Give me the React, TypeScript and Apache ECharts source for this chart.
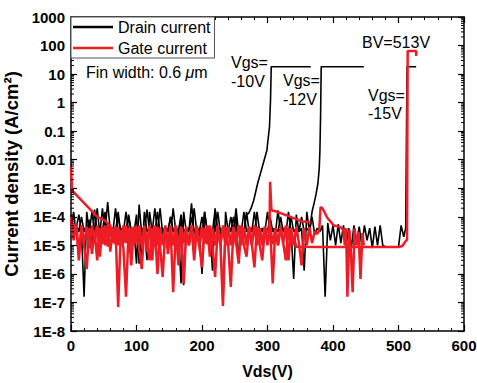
import React, { useEffect, useRef } from "react";
import * as echarts from "echarts";

// Sweep step of the noisy (measurement-floor) parts, in volts
const V_STEP = 4;

const xTickLabels = ["0", "100", "200", "300", "400", "500", "600"];
const yTickLabels = ["1E-8", "1E-7", "1E-6", "1E-5", "1E-4", "1E-3", "0.01", "0.1", "1", "10", "100", "1000"];

// ---- Drain current, Vgs = -10 V (noise from 0 V every 4 V, then breakdown) ----
const drainA = [
  1e-4, 3e-5, 4e-5, 1.2e-4, 3e-5, 1.6e-7, 1.5e-4, 3e-5, 4e-5, 3e-5,
  2e-4, 2.5e-5, 4e-5, 3e-5, 3.3e-4, 3e-5, 4e-5, 3e-5, 1.5e-4, 2.5e-5,
  4e-5, 3e-5, 1.2e-4, 3e-5, 4e-5, 2.3e-6, 2.7e-4, 2.5e-5, 4e-5, 3e-6,
  1.5e-4, 3e-5, 4e-5, 3e-5, 2e-4, 2.5e-5, 4e-5, 3e-5, 1e-4, 3e-5,
  4e-5, 3e-5, 8e-5, 4e-7, 4e-5, 3e-5, 3e-4, 2.5e-5, 4e-5, 3e-5,
  1e-6, 1.5e-4, 3e-5, 4e-5, 1.3e-6, 2e-4, 3e-5, 4e-5, 7.5e-8, 1.5e-4,
  3e-5, 4e-5, 3e-5, 1.2e-4, 3e-6, 4e-5, 3e-5, 1.2e-4,
];
const drainABreak = [
  [271, 1.3e-4], [275, 2e-4], [279, 3.8e-4], [285, 1.5e-3], [292, 5.6e-3],
  [299, 0.021], [303, 0.14], [304.6, 1.2], [305.7, 18], [366, 18],
];

// ---- Drain current, Vgs = -12 V ----
const drainB = [
  5e-5, 1.5e-4, 2.5e-5, 4e-5, 3e-5, 4e-5, 3e-5, 8e-5, 1e-5, 1.8e-4,
  3e-5, 4e-5, 3e-5, 1.5e-4, 2.5e-5, 4e-5, 3e-5, 2e-4, 2.5e-5, 4e-5,
  3e-5, 1.5e-4, 3e-5, 4e-5, 2.5e-5, 1.2e-4, 2.3e-6, 4e-5, 3e-5, 1.8e-4,
  3e-5, 4e-5, 2.5e-5, 1.5e-4, 3e-5, 4e-5, 3e-5, 4e-5, 2.5e-5, 2e-4,
  3e-5, 4e-5, 4.6e-7, 1.5e-4, 3e-5, 4e-5, 2.5e-5, 2e-4, 3e-5, 4e-5,
  2.5e-5, 1.5e-4, 3e-5, 4e-5, 3e-5, 1.8e-4, 3e-5, 4e-5, 2.5e-5, 4e-5,
  3e-5, 1e-4, 3e-5, 2e-4, 2.5e-5, 4e-5, 3e-5, 1.5e-4, 3e-5, 4e-5,
  2.5e-5, 1.5e-4, 3e-5, 4e-5, 3e-5, 1.5e-4, 3e-5, 4e-5, 2.5e-5, 1.7e-4,
  3e-5, 4e-5, 2.5e-5, 1.5e-4, 3e-5, 6.6e-7, 1.2e-4, 3e-5, 4e-5, 1.3e-6,
  1.5e-4, 3e-5, 1.5e-4,
];
const drainBBreak = [
  [371, 2.9e-4], [374, 6e-4], [377, 1.5e-3], [379, 5e-3], [380, 0.02],
  [381, 0.3], [382, 18], [447, 18],
];

// ---- Drain current, Vgs = -15 V ----
const drainC = [
  1.2e-4, 3e-5, 4e-5, 3e-5, 1e-4, 3e-5, 4e-5, 3e-5, 1.5e-4, 3e-5,
  4e-5, 2.5e-5, 2e-4, 3e-5, 4e-5, 3e-5, 4e-5, 3e-5, 1e-4, 3e-5,
  4e-5, 3e-5, 1e-4, 3e-5, 4e-5, 2.5e-5, 4e-5, 2.3e-6, 1.5e-4, 3e-5,
  4e-5, 3e-5, 2e-4, 3e-5, 4e-5, 2.5e-5, 4e-5, 3e-5, 1e-4, 3e-5,
  4e-5, 3e-5, 1.2e-4, 3e-5, 4e-5, 3e-5, 1e-4, 3e-5, 4e-5, 3e-5,
  1e-4, 3e-5, 4e-5, 3e-5, 4e-5, 3e-5, 1.5e-4, 3e-5, 4e-5, 3e-5,
  4e-5, 3e-5, 1e-4, 3e-5, 4e-5, 3e-5, 1.5e-4, 3e-5, 4e-5, 3e-5,
  1.5e-4, 3e-5, 4e-5, 3e-5, 4e-5, 3e-5, 1e-4, 3e-5, 4e-5, 3e-5,
  1e-4, 3e-5, 4e-5, 3e-5, 1e-4, 3e-5, 4e-5, 3e-5, 1e-4, 3e-5,
  4e-5, 3e-5, 1e-4, 2.5e-5, 4e-5, 3e-5, 5e-5, 1.6e-7, 6e-5, 1.5e-5,
  5e-5, 1e-5, 5.5e-5, 1.2e-5, 5e-5, 1e-5, 4e-5, 8e-6, 5e-5, 1.2e-5,
  4.5e-5, 1e-5, 5e-5, 1.5e-5, 4e-5, 8e-6, 4.5e-5, 1e-5, 5e-5, 1e-5,
  9e-6, 8.7e-6, 9e-6, 8.7e-6, 9e-6, 8.7e-6, 5e-5, 2e-5,
];
const drainCBreak = [[511, 4e-5], [513, 18], [527, 18]];

// ---- Gate current, Vgs = -10 V ----
const gateAStart = [
  [0, 5.6e-3], [1.5, 8.5e-4], [11, 5e-4], [26, 2.2e-4], [41, 9.5e-5], [52, 7.5e-5], [57, 5.5e-5],
];
const gateA = [ // from 60 V
  5e-5, 1.5e-5, 4e-5, 7e-8, 3e-5, 1.2e-5, 5e-5, 9e-6, 4e-5, 1e-5,
  4.5e-5, 8e-6, 1.5e-6, 4e-5, 1.1e-5, 5e-5, 3e-6, 4e-5, 1e-6, 3.5e-5,
  1e-5, 5e-5, 1.2e-5, 4e-5, 2.3e-7, 3e-5, 1e-5, 4.5e-5, 4.5e-7, 3.5e-5,
  1.2e-5, 5e-5, 3e-6, 4e-5, 9e-6, 1.7e-6, 4e-5, 1.1e-5, 5e-5, 1e-5,
  7.8e-7, 4e-5, 1.2e-5, 7.5e-8, 4.5e-5, 1e-5, 3.5e-7, 4e-5, 1.3e-5, 2.3e-6,
  5e-5, 1e-5, 4e-6, 4e-5, 1.2e-5, 1.7e-6, 4.5e-5, 1.1e-5, 3e-6, 4e-5,
  3e-5,
];
const gateABreak = [
  [303, 3e-5], [304, 1.7e-3], [306, 1.7e-4], [315, 1.5e-4], [330, 1.1e-4],
  [340, 9e-5], [352, 7e-5], [366, 6.5e-5],
];

// ---- Gate current, Vgs = -12 V ----
const gateB = [
  8e-5, 1.5e-5, 5e-5, 5e-6, 4e-5, 1e-5, 1.5e-6, 4e-5, 5e-6, 3.5e-5,
  3e-6, 4e-5, 1.1e-5, 5e-5, 9e-6, 4e-5, 1.2e-5, 4.5e-5, 1e-5, 3.5e-5,
  8e-6, 1.6e-7, 4e-5, 2e-6, 4.5e-5, 1.2e-5, 3.5e-5, 1e-5, 5e-5, 1.1e-5,
  3e-6, 4e-5, 1e-5, 4.5e-5, 9e-6, 7.8e-7, 4e-5, 1.2e-5, 5e-5, 1e-5,
  4e-5, 2e-6, 4.5e-5, 1.2e-5, 3.5e-5, 1e-5, 4e-5, 1.1e-5, 5e-5, 9e-6,
  4e-5, 1.2e-5, 4.5e-5, 1e-5, 4e-5, 1.1e-5, 5e-5, 1e-5, 4e-5, 1.2e-5,
  4.5e-5, 1e-5, 4e-5, 1.1e-5, 5e-5, 1e-5, 4e-5, 1.2e-5, 4.5e-5, 1e-5,
  5e-5, 1.1e-5, 4e-5, 1e-5, 4.5e-5, 1.2e-5, 5e-5, 4.6e-7, 4e-5, 1e-5,
  4.5e-5, 1.2e-5, 5e-5, 3e-6, 4e-5, 1e-5, 4.5e-5, 1.2e-5, 2e-6, 4e-5,
  1e-5, 4.5e-5, 1.2e-5, 3e-5, 2.5e-5,
];
const gateBBreak = [
  [379, 3.4e-5], [381, 2.2e-4], [384, 2e-4], [391, 9.5e-5], [401, 5e-5], [410, 4.5e-5],
  [416, 3.5e-5], [418, 1e-5], [420, 4e-5], [422, 1.6e-7], [425, 3.5e-5], [427, 8e-6],
  [430, 2.3e-7], [433, 4e-5], [436, 1e-5], [439, 3e-5], [442, 6.6e-7], [445, 2.7e-5], [447, 1e-5],
];

// ---- Gate current, Vgs = -15 V ----
const gateC = [
  1e-4, 2e-5, 6e-5, 3e-6, 5e-5, 1.2e-5, 4.5e-5, 8e-6, 5e-5, 1.2e-5,
  5e-5, 4e-6, 4.5e-5, 1e-5, 5e-5, 6e-6, 4e-5, 1.1e-5, 4.5e-5, 1e-5,
  5e-5, 1.2e-5, 4e-5, 1e-5, 4.5e-5, 1.2e-5, 5e-5, 1e-5, 4e-5, 6e-6,
  4.5e-5, 1.1e-5, 5e-5, 1e-5, 4e-5, 1.2e-5, 4.5e-5, 5e-6, 4e-5, 1.1e-5,
  5e-5, 1e-5, 4e-5, 1.2e-5, 4.5e-5, 1e-5, 5e-5, 1.1e-5, 4e-5, 1e-5,
  4.5e-5, 1.2e-5, 5e-5, 4e-6, 4e-5, 1e-5, 4.5e-5, 1.2e-5, 5e-5, 1e-5,
  4e-5, 1.1e-5, 4.5e-5, 1e-5, 5e-5, 1.2e-5, 4e-5, 1e-5, 4.5e-5, 1.1e-5,
  5e-5, 1e-5, 4e-5, 1.2e-5, 4.5e-5, 1e-5, 5e-5, 1.1e-5, 4e-5, 1e-5,
  4.5e-5, 1.2e-5, 3e-6, 4e-5, 1e-5, 2e-5,
];
const gateCBreak = [
  [344, 9e-6], [380, 8.8e-6], [420, 8.7e-6], [460, 8.7e-6], [500, 8.8e-6], [506, 9.5e-6],
  [510, 1.3e-5], [513, 1.6e-5], [514, 64], [527, 64], [527, 43],
];

const FONT = '"Liberation Sans", Arial, Helvetica, sans-serif';
const BLACK = "#000000";
const RED = "#ee1c25";

function sweep(startV: number, vals: number[], tail: number[][], head: number[][] = []) {
  return [...head, ...vals.map((v, i) => [startV + i * V_STEP, v]), ...tail];
}

export default function App() {
  const ref = useRef<HTMLDivElement>(null);
  useEffect(() => {
    if (!ref.current) return;
    const chart = echarts.init(ref.current, undefined, { renderer: "svg" });

    const minorVals: number[][] = [];
    for (let e = -8; e < 3; e++) {
      for (let m = 2; m <= 9; m++) minorVals.push([0, m * Math.pow(10, e)]);
    }

    const lineSeries = (name: string, color: string, data: number[][], width: number) => ({
      type: "line",
      name,
      data,
      symbol: "none",
      showSymbol: false,
      lineStyle: { color, width },
      itemStyle: { color },
      clip: true,
      z: 2,
    });

    const xAxisCommon = {
      type: "value",
      min: 0,
      max: 600,
      interval: 100,
      axisLine: { show: true, onZero: false, lineStyle: { color: BLACK, width: 1.5 } },
      axisTick: { show: true, inside: true, length: 6, lineStyle: { color: BLACK, width: 1.2 } },
      minorTick: { show: true, splitNumber: 5, length: 3, lineStyle: { color: BLACK, width: 1 } },
      splitLine: { show: false },
      minorSplitLine: { show: false },
    };
    const yAxisCommon = {
      type: "log",
      logBase: 10,
      min: 1e-8,
      max: 1000,
      interval: 1,
      axisLine: { show: true, onZero: false, lineStyle: { color: BLACK, width: 1.5 } },
      axisTick: { show: true, inside: true, length: 6, lineStyle: { color: BLACK, width: 1.2 } },
      splitLine: { show: false },
    };

    const option: any = {
      animation: false,
      backgroundColor: "#ffffff",
      grid: { left: 71, right: 13, top: 17, bottom: 52, containLabel: false, outerBoundsMode: "none" },
      legend: {
        data: ["Drain current", "Gate current"],
        orient: "vertical",
        left: 71,
        top: 17,
        icon: "rect",
        itemWidth: 40,
        itemHeight: 2.5,
        itemGap: 5,
        padding: [2, 4, 2, 2],
        borderColor: "#555",
        borderWidth: 1,
        backgroundColor: "#ffffff",
        textStyle: { fontFamily: FONT, fontSize: 16, color: BLACK },
        z: 10,
      },
      xAxis: [
        {
          ...xAxisCommon,
          position: "bottom",
          name: "Vds(V)",
          nameLocation: "middle",
          nameGap: 32,
          nameTextStyle: { fontFamily: FONT, fontSize: 16, fontWeight: "bold", color: BLACK },
          axisLabel: {
            fontFamily: FONT,
            fontSize: 15,
            fontWeight: "bold",
            color: BLACK,
            margin: 7,
            formatter: (v: number) => xTickLabels[Math.round(v / 100)] ?? String(v),
          },
        },
        { ...xAxisCommon, position: "top", axisLabel: { show: false } },
      ],
      yAxis: [
        {
          ...yAxisCommon,
          position: "left",
          name: "Current density (A/cm\u00B2)",
          nameLocation: "middle",
          nameGap: 41,
          nameTextStyle: { fontFamily: FONT, fontSize: 18.5, fontWeight: "bold", color: BLACK },
          axisLabel: {
            fontFamily: FONT,
            fontSize: 15,
            fontWeight: "bold",
            color: BLACK,
            margin: 6,
            formatter: (v: number) => yTickLabels[Math.round(Math.log10(v)) + 8] ?? "",
          },
        },
        { ...yAxisCommon, position: "right", axisLabel: { show: false } },
      ],
      series: [
        lineSeries("Drain current", BLACK, sweep(0, drainA, drainABreak), 1.6),
        lineSeries("Drain current", BLACK, sweep(0, drainB, drainBBreak), 1.6),
        lineSeries("Drain current", BLACK, sweep(0, drainC, drainCBreak), 1.6),
        lineSeries("Gate current", RED, sweep(60, gateA, gateABreak, gateAStart), 2.5),
        lineSeries("Gate current", RED, sweep(0, gateB, gateBBreak), 2.5),
        lineSeries("Gate current", RED, sweep(0, gateC, gateCBreak), 2.5),
        {
          type: "custom",
          name: "minor",
          silent: true,
          data: minorVals,
          z: 5,
          clip: false,
          renderItem: (_p: any, api: any) => {
            const v = api.value(1);
            const l = api.coord([0, v]);
            const r = api.coord([600, v]);
            const st = { stroke: BLACK, lineWidth: 1 };
            return {
              type: "group",
              children: [
                { type: "line", shape: { x1: l[0], y1: l[1], x2: l[0] + 3, y2: l[1] }, style: st },
                { type: "line", shape: { x1: r[0] - 3, y1: r[1], x2: r[0], y2: r[1] }, style: st },
              ],
            };
          },
        },
      ],
      graphic: [
        {
          type: "text",
          x: 86,
          y: 72,
          style: {
            text: "{a|Fin width: 0.6 }{b|\u03BC}{a|m}",
            fontFamily: FONT,
            fontSize: 16,
            fill: BLACK,
            verticalAlign: "middle",
            rich: {
              a: { fontFamily: FONT, fontSize: 16, color: BLACK },
              b: { fontFamily: FONT, fontSize: 16, color: BLACK, fontStyle: "italic" },
            },
          },
          z: 20,
        },
        {
          type: "text",
          x: 231,
          y: 53,
          style: { text: "Vgs=\n-10V", fontFamily: FONT, fontSize: 16, lineHeight: 19, fill: BLACK, verticalAlign: "top" },
          z: 20,
        },
        {
          type: "text",
          x: 283,
          y: 71,
          style: { text: "Vgs=\n-12V", fontFamily: FONT, fontSize: 16, lineHeight: 19, fill: BLACK, verticalAlign: "top" },
          z: 20,
        },
        {
          type: "text",
          x: 362,
          y: 42,
          style: { text: "BV=513V", fontFamily: FONT, fontSize: 16, fill: BLACK, verticalAlign: "middle" },
          z: 20,
        },
        {
          type: "text",
          x: 368,
          y: 86,
          style: { text: "Vgs=\n-15V", fontFamily: FONT, fontSize: 16, lineHeight: 18, fill: BLACK, verticalAlign: "top" },
          z: 20,
        },
      ],
    };

    chart.setOption(option);
    return () => chart.dispose();
  }, []);

  return <div ref={ref} style={{ position: "fixed", left: 0, top: 0, width: 477, height: 383 }} />;
}
